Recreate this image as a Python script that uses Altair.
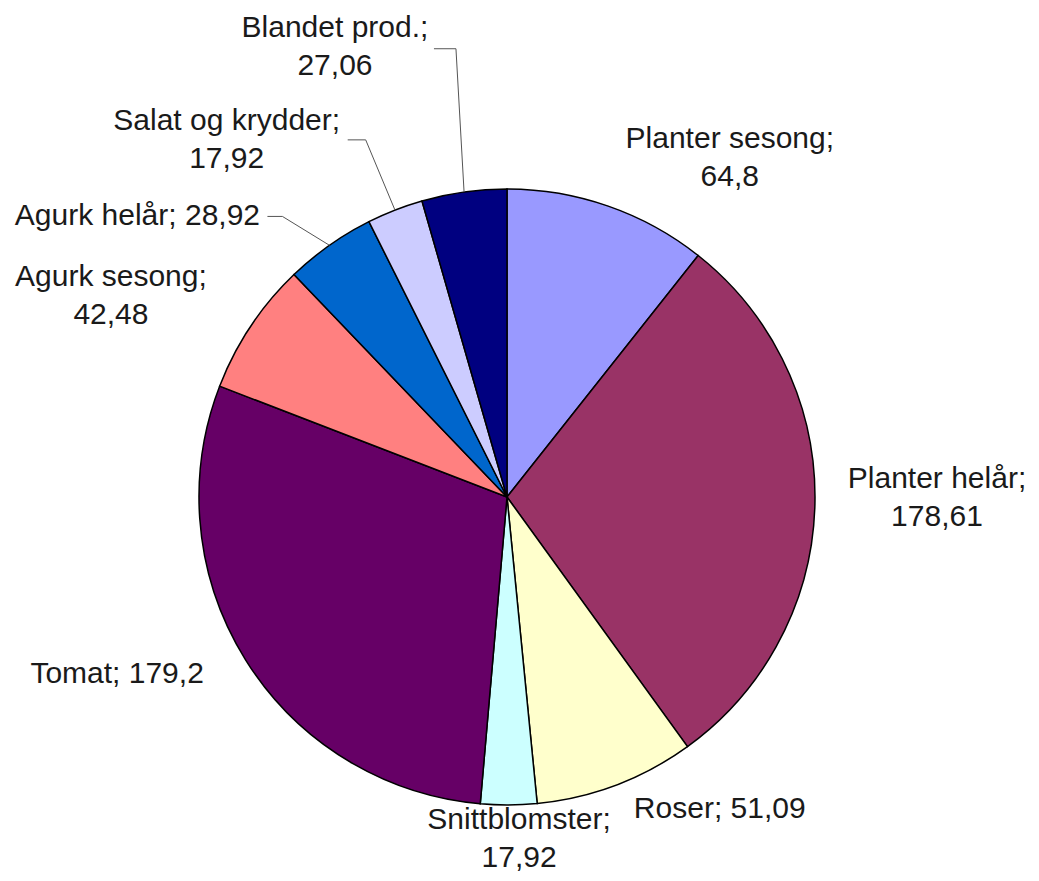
import math
import altair as alt
import pandas as pd

# ---------------- data ----------------
categories = ["Planter sesong", "Planter helår", "Roser", "Snittblomster", "Tomat",
              "Agurk sesong", "Agurk helår", "Salat og krydder", "Blandet prod."]
values = [64.8, 178.61, 51.09, 17.92, 179.2, 42.48, 28.92, 17.92, 27.06]
value_labels = ["64,8", "178,61", "51,09", "17,92", "179,2", "42,48", "28,92", "17,92", "27,06"]
colors = ["#9999FF", "#993366", "#FFFFCC", "#CCFFFF", "#660066",
          "#FF8080", "#0066CC", "#CCCCFF", "#000080"]

# ---------------- layout / style ----------------
CX, CY, R = 499, 489, 308
FONT = "Liberation Sans"
FONT_SIZE = 30
LINE_H = 38
two_line = [True, True, False, True, False, True, False, True, True]
label_shift_deg = [14.1, -1.1, -13.5, -1.7, 7.6, -6.8, -17.6, -16.8, -12.9]
label_radius = [406, 430, 378, 342, 428, 444, 464, 454, 482]
# leader lines: label index -> (start dx, elbow dx, dy) relative to label centre
leaders = {6: (130, 145, 0), 7: (121, 139, 0), 8: (99, 121, 2)}

total = sum(values)
arc_rows, lab_rows, lead_rows = [], [], []
cum = 0.0
for i, (c, v, vl) in enumerate(zip(categories, values, value_labels)):
    mid = (cum + v / 2) / total * 2 * math.pi
    cum += v
    arc_rows.append({"idx": i, "cat": c, "value": v})
    a = mid + math.radians(label_shift_deg[i])
    lx = CX + label_radius[i] * math.sin(a)
    ly = CY - label_radius[i] * math.cos(a)
    if two_line[i]:
        txt = f"{c};\n{vl}"
        first_line_y = ly - LINE_H / 2
    else:
        txt = f"{c}; {vl}"
        first_line_y = ly
    lab_rows.append({"cat": c, "lx": lx, "ly": first_line_y, "text": txt})
    if i in leaders:
        sdx, edx, dy = leaders[i]
        ex = CX + R * math.sin(mid)
        ey = CY - R * math.cos(mid)
        lead_rows += [
            {"cat": c, "pt": 0, "x": lx + sdx, "y": ly + dy},
            {"cat": c, "pt": 1, "x": lx + edx, "y": ly + dy},
            {"cat": c, "pt": 2, "x": ex, "y": ey},
        ]

arc_df = pd.DataFrame(arc_rows)
lab_df = pd.DataFrame(lab_rows)
lead_df = pd.DataFrame(lead_rows)

arcs = alt.Chart(arc_df).mark_arc(outerRadius=R, stroke="black", strokeWidth=1.5).encode(
    theta=alt.Theta("value:Q", stack=True),
    color=alt.Color("cat:N", scale=alt.Scale(domain=categories, range=colors), legend=None),
    order=alt.Order("idx:Q"),
    x=alt.value(CX),
    y=alt.value(CY),
)

leader_lines = alt.Chart(lead_df).mark_line(color="#555555", strokeWidth=1).encode(
    x=alt.X("x:Q", scale=None, axis=None),
    y=alt.Y("y:Q", scale=None, axis=None),
    detail="cat:N",
    order="pt:Q",
)

labels = alt.Chart(lab_df).mark_text(
    font=FONT, fontSize=FONT_SIZE, lineHeight=LINE_H, lineBreak="\n",
    align="center", baseline="middle", color="#1a1a1a"
).encode(
    x=alt.X("lx:Q", scale=None, axis=None),
    y=alt.Y("ly:Q", scale=None, axis=None),
    text="text:N",
)

chart = alt.layer(arcs, leader_lines, labels).properties(
    width=1023, height=865, padding=0,
    autosize=alt.AutoSizeParams(type="none"),
).configure_view(stroke=None)

chart.save("out.html", embed_options={"renderer": "svg", "actions": False})
